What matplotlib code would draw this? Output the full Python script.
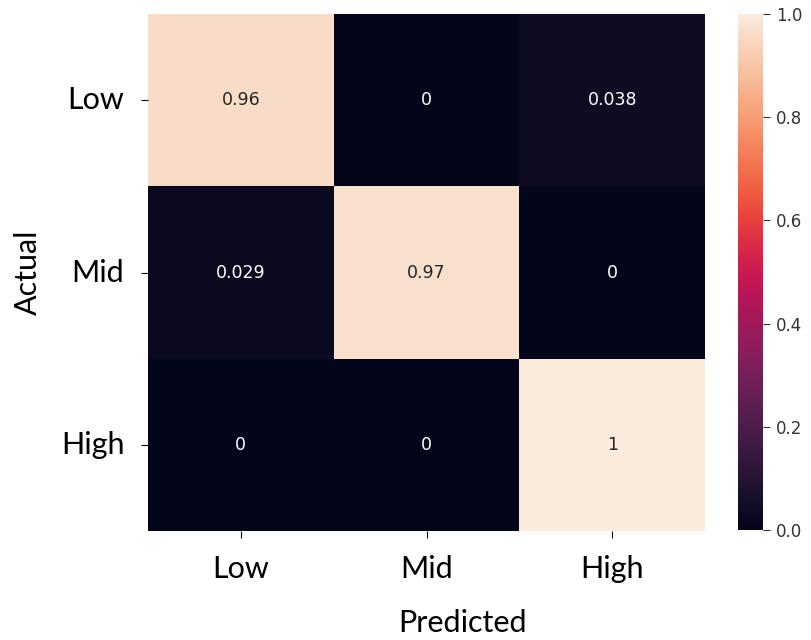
import matplotlib
matplotlib.use("Agg")
import matplotlib.pyplot as plt
import seaborn as sns
import numpy as np

labels = ["Low", "Mid", "High"]
values = [[0.96, 0.0, 0.038],
          [0.029, 0.97, 0.0],
          [0.0, 0.0, 1.0]]
annots = [["0.96", "0", "0.038"],
          ["0.029", "0.97", "0"],
          ["0", "0", "1"]]

fig = plt.figure(figsize=(8.11, 6.4), dpi=100)
ax = fig.add_axes([0.1825, 0.170, 0.687, 0.808])
cax = fig.add_axes([0.910, 0.172, 0.031, 0.806])

sns.heatmap(np.array(values), annot=np.array(annots), fmt="", ax=ax, cbar_ax=cax,
            vmin=0, vmax=1, annot_kws={"fontsize": 12.5},
            xticklabels=labels, yticklabels=labels)

lab_font = "Lato"
ax.set_xticklabels(labels, fontsize=22, family=lab_font)
ax.set_yticklabels(labels, fontsize=22, family=lab_font, rotation=0)
ax.tick_params(axis="x", pad=12, length=5)
ax.tick_params(axis="y", pad=12, length=5)
ax.set_xlabel("Predicted", fontsize=22, family=lab_font, labelpad=14)
ax.xaxis.set_label_coords(0.565, -0.15)
ax.set_ylabel("Actual", fontsize=22, family=lab_font, labelpad=14)

cax.tick_params(labelsize=12, length=5, pad=4, colors="#333333")
cax.set_yticks([0.0, 0.2, 0.4, 0.6, 0.8, 1.0])

fig.savefig("out.png", dpi=100)
